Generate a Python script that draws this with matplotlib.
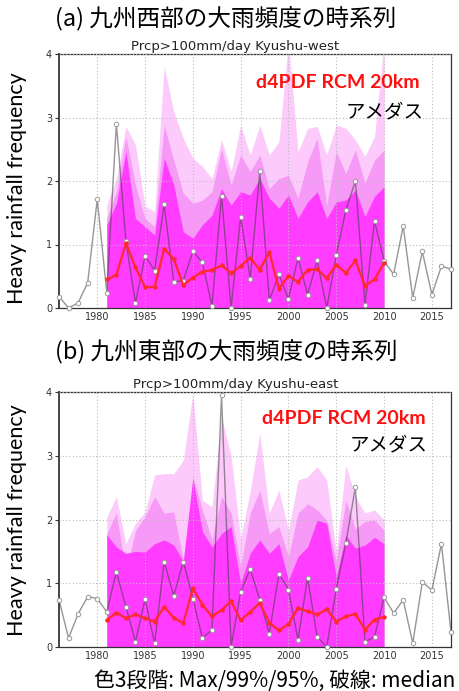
import numpy as np
import matplotlib
matplotlib.use("Agg")
import matplotlib.pyplot as plt

plt.rcParams['font.family'] = ['DejaVu Sans', 'Noto Sans CJK JP']

# observation years (AMeDAS) and model years (d4PDF RCM 20km)
obs_years = np.arange(1976, 2018)
model_years = np.arange(1981, 2011)

# Kyushu-west
west_obs = [0.18, 0.0, 0.08, 0.40, 1.71, 0.24, 2.90, 1.05, 0.08, 0.82, 0.59, 1.63, 0.41, 0.43,
            0.89, 0.72, 0.03, 1.77, 0.0, 1.44, 0.46, 2.15, 0.12, 0.53, 0.14, 0.79, 0.21, 0.75,
            0.0, 0.83, 1.54, 2.00, 0.05, 1.37, 0.74, 0.53, 1.29, 0.16, 0.89, 0.21, 0.66, 0.61]
west_med = [0.45, 0.52, 1.02, 0.64, 0.33, 0.33, 0.93, 0.77, 0.36, 0.48, 0.57, 0.60, 0.67, 0.55, 0.66,
            0.79, 0.60, 0.88, 0.30, 0.51, 0.41, 0.60, 0.61, 0.47, 0.68, 0.55, 0.75, 0.35, 0.45, 0.71]
west_p95 = [1.31, 1.65, 2.46, 1.41, 1.28, 1.15, 2.36, 1.94, 1.20, 1.10, 1.31, 1.46, 1.88, 1.62, 1.83,
            1.78, 2.04, 1.73, 1.57, 1.78, 1.41, 1.67, 1.83, 1.41, 1.67, 1.70, 1.86, 1.44, 1.76, 1.91]
west_p99 = [1.41, 1.83, 2.70, 1.94, 1.41, 1.28, 2.88, 2.33, 1.81, 1.65, 1.70, 1.83, 2.51, 1.94, 2.41,
            2.15, 2.41, 1.88, 2.04, 2.09, 1.73, 2.30, 2.67, 1.62, 2.46, 2.12, 2.49, 1.97, 2.33, 2.49]
west_max = [1.62, 2.04, 2.86, 2.57, 1.60, 1.52, 3.80, 3.09, 2.67, 2.36, 2.23, 2.04, 2.65, 2.15, 2.88,
            2.41, 2.88, 2.41, 2.62, 4.20, 2.46, 2.83, 2.86, 2.41, 2.88, 2.83, 2.65, 2.39, 2.70, 4.20]

# Kyushu-east
east_obs = [0.74, 0.14, 0.52, 0.79, 0.76, 0.55, 1.18, 0.63, 0.08, 0.75, 0.06, 1.34, 0.80, 1.34,
            0.76, 0.14, 0.27, 3.95, 0.0, 0.87, 1.22, 0.74, 0.21, 1.15, 0.90, 0.11, 1.09, 0.16,
            0.0, 0.91, 1.63, 2.51, 0.08, 0.16, 0.78, 0.53, 0.74, 0.06, 1.02, 0.89, 1.62, 0.23]
east_med = [0.42, 0.54, 0.45, 0.51, 0.45, 0.40, 0.63, 0.46, 0.37, 0.92, 0.66, 0.48, 0.58, 0.72, 0.42,
            0.55, 0.69, 0.38, 0.26, 0.36, 0.61, 0.56, 0.51, 0.59, 0.40, 0.48, 0.52, 0.27, 0.43, 0.47]
east_p95 = [1.76, 1.57, 1.47, 1.50, 1.49, 1.62, 1.68, 1.60, 1.34, 2.64, 1.81, 1.57, 1.78, 1.89, 1.00,
            1.47, 1.68, 1.47, 1.62, 1.05, 1.42, 1.57, 1.99, 1.94, 1.10, 1.75, 1.55, 1.60, 1.72, 1.62]
east_p99 = [1.78, 2.10, 1.18, 1.83, 2.04, 2.36, 2.10, 2.12, 1.36, 2.67, 2.15, 1.68, 2.36, 2.10, 1.26,
            2.10, 2.46, 1.78, 1.89, 1.42, 2.10, 2.25, 2.15, 1.99, 1.35, 2.30, 1.85, 1.97, 1.99, 1.83]
east_max = [2.04, 2.36, 1.62, 1.94, 2.12, 2.70, 2.72, 2.72, 2.93, 3.98, 2.30, 2.20, 3.60, 3.00, 1.70,
            2.45, 3.35, 2.10, 2.46, 1.83, 2.62, 2.67, 2.83, 2.62, 1.50, 2.85, 2.36, 2.10, 2.15, 1.99]

xticks = [1980, 1985, 1990, 1995, 2000, 2005, 2010, 2015]
yticks = [0, 1, 2, 3, 4]

c_max, c_99, c_95 = '#fccbfc', '#f79af7', '#ff3cff'


def draw_panel(ax, obs, med, p95, p99, pmax, subtitle, red_xy, ame_xy):
    # 3 colour levels: Max / 99% / 95%
    ax.fill_between(model_years, 0, pmax, color=c_max, lw=0, zorder=1)
    ax.fill_between(model_years, 0, p99, color=c_99, lw=0, zorder=1)
    ax.fill_between(model_years, 0, p95, color=c_95, lw=0, zorder=1)

    # AMeDAS
    ax.plot(obs_years, obs, color='#404040', alpha=0.55, lw=1.0, zorder=3, clip_on=False)
    ax.plot(obs_years, obs, ls='none', marker='o', ms=3.2, mfc='white', mec='#999999',
            mew=0.7, zorder=4, clip_on=False)
    # model median
    ax.plot(model_years, med, color='#ff2a2a', lw=1.6, marker='o', ms=2.2, zorder=5)

    ax.set_xlim(1976, 2017)
    ax.set_ylim(0, 4)
    ax.set_xticks(xticks)
    ax.set_yticks(yticks)
    ax.grid(True, color='#bbbbbb', ls=(0, (1, 2)), lw=0.8, zorder=2)
    ax.set_axisbelow(False)
    ax.tick_params(axis='both', labelsize=7, colors='#333333', length=3, width=0.8, pad=2)
    ax.tick_params(axis='x', length=0, pad=3)
    for s in ['top', 'right', 'bottom']:
        ax.spines[s].set_linestyle((0, (2, 1)))
        ax.spines[s].set_linewidth(0.9)
        ax.spines[s].set_color('#333333')
    ax.spines['left'].set_linewidth(1.4)
    ax.spines['left'].set_color('#444444')
    ax.set_title(subtitle, fontsize=9.5, color='#222222', pad=3, x=0.45)

    ax.text(red_xy[0], red_xy[1], 'd4PDF RCM 20km', transform=ax.transAxes, ha='center',
            va='center', color='#ff1010', fontsize=14, fontweight='bold', family='Lato')
    ax.text(ame_xy[0], ame_xy[1], 'アメダス', transform=ax.transAxes, ha='right', va='center',
            color='black', fontsize=14, family='Noto Sans CJK JP')


fig = plt.figure(figsize=(4.6, 6.91), dpi=100)
ax1 = fig.add_axes([59 / 460, 1 - 308 / 691, 392 / 460, 254 / 691])
ax2 = fig.add_axes([59 / 460, 1 - 647 / 691, 392 / 460, 255 / 691])

draw_panel(ax1, west_obs, west_med, west_p95, west_p99, west_max, 'Prcp>100mm/day Kyushu-west',
           (0.71, 0.886), (0.93, 0.772))
draw_panel(ax2, east_obs, east_med, east_p95, east_p99, east_max, 'Prcp>100mm/day Kyushu-east',
           (0.727, 0.898), (0.941, 0.792))

fig.text(226 / 460, 1 - 19 / 691, '(a) 九州西部の大雨頻度の時系列', ha='center', va='center',
         fontsize=17, family='Noto Sans CJK JP')
fig.text(226 / 460, 1 - 352 / 691, '(b) 九州東部の大雨頻度の時系列', ha='center', va='center',
         fontsize=17, family='Noto Sans CJK JP')

for yc in [188, 520]:
    fig.text(17 / 460, 1 - yc / 691, 'Heavy rainfall frequency', rotation=90, ha='center',
             va='center', fontsize=15.5, family='Lato')

fig.text(455 / 460, 1 - 681 / 691, '色3段階: Max/99%/95%, 破線: median', ha='right', va='center',
         fontsize=15, family='Noto Sans CJK JP')

fig.savefig('out.png', dpi=100)
